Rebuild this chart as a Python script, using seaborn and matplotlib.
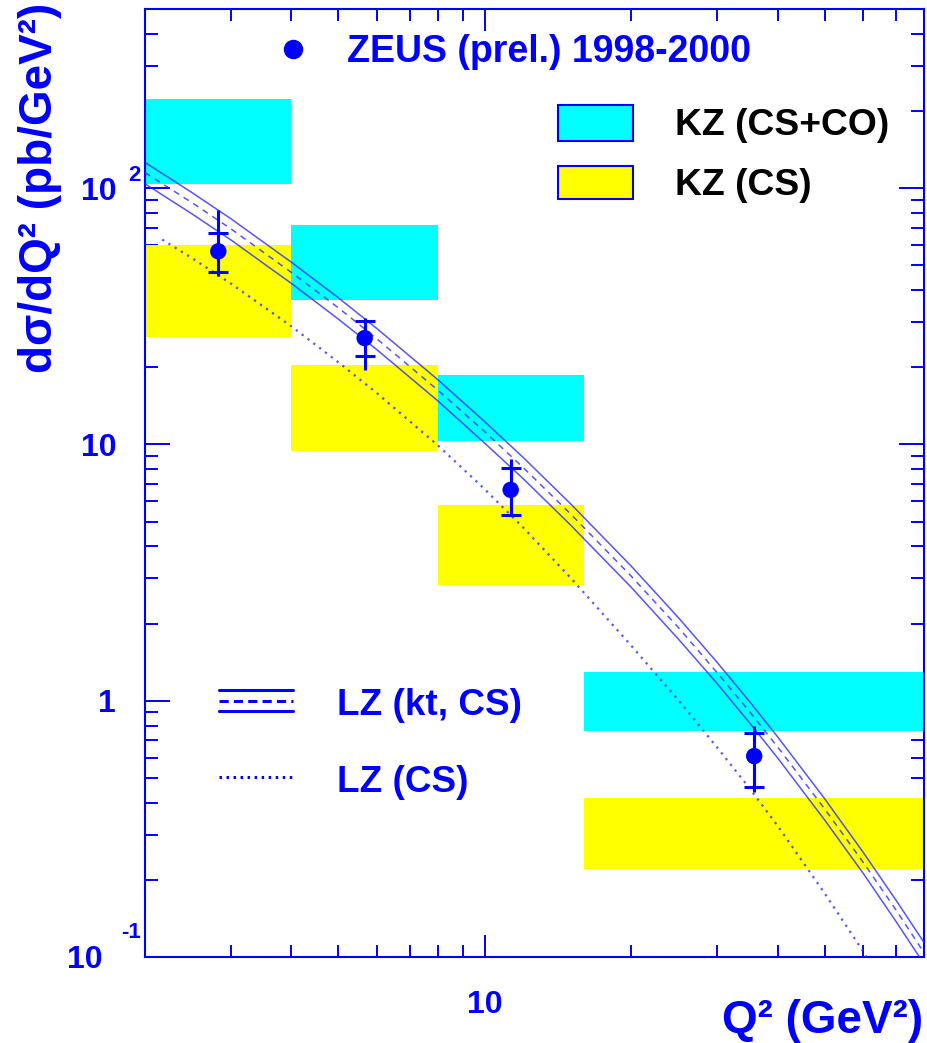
import numpy as np
import pandas as pd
import seaborn as sns
import matplotlib
matplotlib.use("Agg")
from matplotlib import pyplot as plt
from matplotlib.lines import Line2D
from matplotlib.patches import Rectangle
import matplotlib.ticker as ticker

# values
bin_edges = [2, 4, 8, 16, 80]
kz_csco_lo = [104, 36.7, 10.3, 0.76]
kz_csco_hi = [222, 71.5, 18.7, 1.29]
kz_cs_lo = [26.3, 9.45, 2.83, 0.221]
kz_cs_hi = [60.1, 20.5, 5.81, 0.418]

zeus_q2 = [2.83, 5.66, 11.3, 35.8]
zeus_xs = [56.7, 26.0, 6.65, 0.608]
zeus_stat_lo = [47.1, 22.1, 5.31, 0.461]
zeus_stat_hi = [66.9, 30.2, 8.09, 0.750]
zeus_tot_lo = [45.6, 19.6, 5.31, 0.441]
zeus_tot_hi = [82.0, 31.2, 8.77, 0.796]

lz_q2 = [2, 2.5, 3, 4, 5, 6, 8, 10, 12, 15, 20, 25, 30, 35, 40, 50, 60, 70, 80]
lz_kt_hi = [126, 96.0, 76.1, 51.4, 37.3, 28.3, 17.9, 12.25, 8.88, 5.87, 3.35, 2.11,
            1.415, 0.994, 0.723, 0.414, 0.256, 0.167, 0.114]
lz_kt_mid = [115, 87.7, 69.5, 46.9, 34.1, 25.8, 16.3, 11.2, 8.11, 5.36, 3.06, 1.93,
             1.29, 0.908, 0.660, 0.378, 0.234, 0.153, 0.104]
lz_kt_lo = [104, 79.3, 62.9, 42.5, 30.8, 23.4, 14.8, 10.1, 7.34, 4.85, 2.77, 1.74,
            1.17, 0.821, 0.598, 0.342, 0.212, 0.138, 0.094]

lz_cs_q2 = [2.17, 2.5, 3, 4, 5, 6, 8, 10, 12, 15, 20, 25, 30, 35, 40, 50, 60, 70]
lz_cs = [63.0, 53.3, 42.5, 28.9, 20.9, 15.85, 9.93, 6.68, 4.73, 3.02, 1.64, 1.006,
         0.659, 0.456, 0.325, 0.177, 0.105, 0.066]

ytick_vals = [0.1, 1, 10, 100]
ytick_base = ["10", "1", "10", "10"]
ytick_exp = ["-1", "", "", "2"]
xtick_vals = [10]
xtick_labels = ["10"]

BLUE = "#0000ff"
CURVE = "#2a2aff"

sns.set_theme(style="white")
plt.rcParams["font.family"] = ["Liberation Sans", "DejaVu Sans"]
plt.rcParams["font.weight"] = "bold"

fig = plt.figure(figsize=(9.27, 10.43), dpi=100)
ax = fig.add_axes([145 / 927, 1 - 957 / 1043, 779 / 927, 948 / 1043])
ax.set_xscale("log")
ax.set_yscale("log")
ax.set_xlim(2, 80)
ax.set_ylim(0.1, 500)

# KZ boxes
lefts = bin_edges[:-1]
widths = np.diff(bin_edges)
ax.bar(lefts, np.subtract(kz_csco_hi, kz_csco_lo), width=widths, bottom=kz_csco_lo,
       align="edge", color="#00ffff", lw=0, zorder=1)
ax.bar(lefts, np.subtract(kz_cs_hi, kz_cs_lo), width=widths, bottom=kz_cs_lo,
       align="edge", color="#ffff00", lw=0, zorder=1)

# LZ curves
band = pd.DataFrame({"Q2": lz_q2, "hi": lz_kt_hi, "mid": lz_kt_mid, "lo": lz_kt_lo})
curve_kw = dict(color=CURVE, lw=1.1, alpha=0.8, zorder=3)
sns.lineplot(data=band, x="Q2", y="hi", ax=ax, **curve_kw)
sns.lineplot(data=band, x="Q2", y="lo", ax=ax, **curve_kw)
sns.lineplot(data=band, x="Q2", y="mid", ax=ax, linestyle=(0, (4, 3.5)), **curve_kw)
sns.lineplot(x=lz_cs_q2, y=lz_cs, ax=ax, color=CURVE, lw=1.6, alpha=0.8,
             linestyle=(0, (1, 2.3)), zorder=3)

# ZEUS points
xs = np.array(zeus_xs)
yerr_tot = [xs - np.array(zeus_tot_lo), np.array(zeus_tot_hi) - xs]
yerr_stat = [xs - np.array(zeus_stat_lo), np.array(zeus_stat_hi) - xs]
ax.errorbar(zeus_q2, zeus_xs, yerr=yerr_tot, fmt="none", ecolor=BLUE,
            elinewidth=2.2, capsize=0, zorder=5)
ax.errorbar(zeus_q2, zeus_xs, yerr=yerr_stat, fmt="none", ecolor=BLUE,
            elinewidth=2.2, capsize=7.5, capthick=2.2, zorder=5)
sns.scatterplot(x=zeus_q2, y=zeus_xs, ax=ax, color=BLUE, s=140,
                edgecolor="none", zorder=6)

# axes styling
ax.set_xlabel("")
ax.set_ylabel("")
ax.grid(False)
for s in ax.spines.values():
    s.set_color(BLUE)
    s.set_linewidth(1.5)
ax.xaxis.set_major_locator(ticker.FixedLocator(xtick_vals))
ax.yaxis.set_major_locator(ticker.FixedLocator(ytick_vals))
ax.xaxis.set_minor_locator(ticker.LogLocator(base=10, subs=np.arange(2, 10), numticks=20))
ax.yaxis.set_minor_locator(ticker.LogLocator(base=10, subs=np.arange(2, 10), numticks=20))
ax.xaxis.set_minor_formatter(ticker.NullFormatter())
ax.yaxis.set_minor_formatter(ticker.NullFormatter())
ax.tick_params(which="both", direction="in", top=True, right=True, bottom=True,
               left=True, labelbottom=False, labelleft=False, color=BLUE, width=1.4)
ax.tick_params(axis="y", which="major", length=18)
ax.tick_params(axis="y", which="minor", length=9.5)
ax.tick_params(axis="x", which="major", length=16)
ax.tick_params(axis="x", which="minor", length=8.5)

# tick labels, ROOT style
base_right_px = [103, 116, 117, 117]
exp_raise_pt = [13.5, 0, 0, 5]
for v, base, ex, rpx, rz in zip(ytick_vals, ytick_base, ytick_exp, base_right_px, exp_raise_pt):
    ax.annotate(base, xy=(0, v), xycoords=("axes fraction", "data"),
                xytext=((rpx - 145) * 0.72, -8.2), textcoords="offset points",
                ha="right", va="baseline", fontsize=23, color=BLUE, weight="bold")
    if ex:
        ax.annotate(ex, xy=(0, v), xycoords=("axes fraction", "data"),
                    xytext=(-4 * 0.72, rz), textcoords="offset points",
                    ha="right", va="baseline", fontsize=16, color=BLUE, weight="bold")
for v, lab in zip(xtick_vals, xtick_labels):
    ax.annotate(lab, xy=(v, 0), xycoords=("data", "axes fraction"),
                xytext=(0, -40.5), textcoords="offset points",
                ha="center", va="baseline", fontsize=23, color=BLUE, weight="bold")

# legend, drawn like the original
ax.plot([0.19], [0.9575], "o", color=BLUE, ms=13, transform=ax.transAxes, zorder=7)
ax.text(0.259, 0.9444, "ZEUS (prel.) 1998-2000", color=BLUE, fontsize=27,
        weight="bold", transform=ax.transAxes, va="baseline")
ax.add_patch(Rectangle((0.5297, 0.8611), 0.097, 0.0373, transform=ax.transAxes,
                       fc="#00ffff", ec=BLUE, lw=1.5, zorder=7))
ax.add_patch(Rectangle((0.5297, 0.7992), 0.097, 0.0355, transform=ax.transAxes,
                       fc="#ffff00", ec=BLUE, lw=1.5, zorder=7))
ax.text(0.6804, 0.8671, "KZ (CS+CO)", color="black", fontsize=26.8, weight="bold",
        transform=ax.transAxes, va="baseline")
ax.text(0.6804, 0.8038, "KZ (CS)", color="black", fontsize=26.8, weight="bold",
        transform=ax.transAxes, va="baseline")

lx = [0.095, 0.1904]
ax.add_line(Line2D(lx, [0.2816, 0.2816], color=BLUE, lw=2.2, transform=ax.transAxes))
ax.add_line(Line2D(lx, [0.2700, 0.2700], color=BLUE, lw=2.2, ls=(0, (3, 1.7)),
                   transform=ax.transAxes))
ax.add_line(Line2D(lx, [0.2595, 0.2595], color=BLUE, lw=2.2, transform=ax.transAxes))
ax.add_line(Line2D(lx, [0.1896, 0.1896], color=BLUE, lw=2.2, ls=(0, (0.8, 1.5)),
                   transform=ax.transAxes))
ax.text(0.2461, 0.2553, "LZ (kt, CS)", color=BLUE, fontsize=26.6, weight="bold",
        transform=ax.transAxes, va="baseline")
ax.text(0.2461, 0.1744, "LZ (CS)", color=BLUE, fontsize=26.6, weight="bold",
        transform=ax.transAxes, va="baseline")

# axis titles
fig.text(40 / 927, 1 - 3 / 1043, "dσ/dQ² (pb/GeV²)", rotation=90, ha="center",
         va="top", fontsize=33, color=BLUE, weight="bold")
fig.text(923 / 927, 1 - 1033 / 1043, "Q² (GeV²)", ha="right", va="baseline",
         fontsize=33, color=BLUE, weight="bold")

fig.savefig("out.png", dpi=100)
